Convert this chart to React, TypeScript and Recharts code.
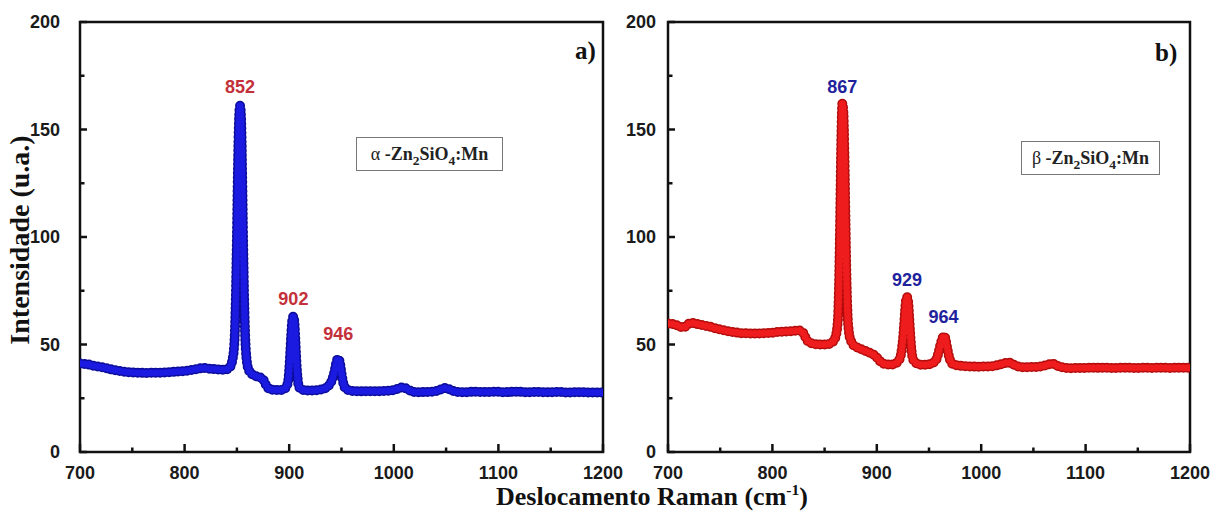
import React from "react";
import { LineChart, Line, XAxis, YAxis, ReferenceArea, ReferenceDot, ReferenceLine } from "recharts";

// Raman spectra of Zn2SiO4:Mn: [shift cm-1, intensity u.a.]
const alphaSpectrum: [number, number][] = [
  [700, 41.2], [704, 41], [708, 40.7], [712, 40.2], [716, 39.8], [720, 39.5], [724, 39.1],
  [728, 38.6], [732, 38.2], [736, 37.8], [740, 37.5], [745, 37.2], [750, 37], [755, 36.9],
  [760, 36.8], [765, 36.8], [770, 36.9], [775, 36.9], [780, 37], [785, 37.1], [790, 37.3],
  [795, 37.5], [800, 37.7], [805, 38], [810, 38.4], [815, 38.9], [819, 39.1], [823, 38.8],
  [827, 38.6], [831, 38.4], [835, 38.3], [839, 38.4], [842, 38.8], [844, 40], [846, 43.5],
  [847, 47], [848, 55], [849, 72], [850, 100], [851, 132], [852, 154], [853, 161],
  [854, 155], [855, 130], [856, 97], [857, 70], [858, 53], [859, 44.5], [860, 40.5],
  [862, 37.5], [865, 36], [868, 35.3], [871, 34.8], [874, 34.3], [876, 33], [878, 31],
  [880, 29.7], [883, 29], [887, 28.8], [891, 28.8], [895, 29.2], [897, 30.2], [899, 33],
  [900, 38], [901, 46], [902, 55], [903, 61.5], [904, 63], [905, 60], [906, 51], [907, 41],
  [908, 34.5], [909, 31], [911, 29.3], [915, 28.7], [920, 28.6], [925, 28.7], [930, 29],
  [934, 29.5], [937, 30.5], [940, 32.5], [942, 35], [944, 39], [945, 41.5], [946, 43],
  [947, 43.5], [948, 42.5], [949, 40], [950, 36.5], [952, 31.5], [954, 29.5], [957, 28.7],
  [960, 28.4], [965, 28.3], [970, 28.2], [975, 28.3], [980, 28.3], [985, 28.2], [990, 28.4],
  [995, 28.5], [1000, 28.8], [1004, 29.4], [1008, 30], [1012, 29.5], [1016, 28.5],
  [1020, 27.9], [1025, 27.8], [1030, 27.9], [1035, 28], [1040, 28.3], [1044, 28.9],
  [1048, 29.8], [1052, 29.4], [1056, 28.5], [1060, 28], [1065, 27.8], [1070, 27.8],
  [1075, 28], [1080, 28], [1085, 27.9], [1090, 27.9], [1095, 28], [1100, 28], [1105, 27.8],
  [1110, 27.9], [1115, 28], [1120, 28], [1125, 27.8], [1130, 27.8], [1135, 27.9],
  [1140, 27.9], [1145, 27.8], [1150, 27.8], [1155, 27.9], [1160, 27.9], [1165, 27.7],
  [1170, 27.7], [1175, 27.8], [1180, 27.8], [1185, 27.7], [1190, 27.7], [1195, 27.7],
  [1200, 27.7],
];

const betaSpectrum: [number, number][] = [
  [700, 59.8], [704, 59.6], [708, 59], [712, 58.2], [715, 57.9], [718, 58.8], [721, 59.9],
  [724, 60], [727, 59.6], [731, 59.2], [735, 58.8], [740, 58.3], [745, 57.6], [750, 57],
  [755, 56.4], [760, 56], [765, 55.6], [770, 55.3], [775, 55.2], [780, 55.1], [785, 55.1],
  [790, 55.2], [795, 55.3], [800, 55.5], [805, 55.8], [810, 56], [815, 56.1], [820, 56.3],
  [825, 56.6], [828, 56.2], [830, 55], [832, 53], [834, 51.5], [837, 50.6], [841, 50.2],
  [845, 50], [849, 50], [853, 50.1], [856, 50.6], [858, 51.3], [860, 52.8], [861, 54.5],
  [862, 57.5], [863, 64], [864, 82], [865, 112], [866, 145], [867, 162], [868, 158],
  [869, 138], [870, 108], [871, 80], [872, 64], [873, 57], [874, 53.5], [876, 51],
  [878, 49.5], [881, 48.7], [885, 47.8], [889, 47], [893, 46.2], [897, 45.3], [900, 44],
  [903, 42.3], [906, 41.2], [910, 40.7], [914, 40.7], [918, 41.2], [921, 42.5], [923, 45],
  [924, 48], [925, 52], [926, 58], [927, 65], [928, 70.5], [929, 72], [930, 70], [931, 63],
  [932, 55], [933, 48.5], [934, 44.5], [936, 42], [939, 41], [943, 40.6], [947, 40.6],
  [950, 40.8], [954, 41.5], [957, 43], [959, 46], [961, 50], [963, 53], [964, 54],
  [965, 53.8], [966, 52], [968, 47], [970, 43], [972, 41.2], [975, 40.5], [980, 40.1],
  [985, 39.9], [990, 39.8], [995, 39.7], [1000, 39.7], [1005, 39.8], [1010, 39.9],
  [1014, 40.2], [1018, 40.7], [1022, 41.3], [1026, 41.6], [1030, 40.9], [1034, 40],
  [1038, 39.5], [1043, 39.4], [1048, 39.5], [1053, 39.6], [1058, 39.9], [1062, 40.4],
  [1066, 40.9], [1069, 41], [1072, 40.3], [1076, 39.6], [1080, 39.2], [1085, 39],
  [1090, 39.1], [1095, 39.1], [1100, 39.1], [1105, 39.2], [1110, 39.1], [1115, 39.2],
  [1120, 39.2], [1125, 39.1], [1130, 39.1], [1135, 39.2], [1140, 39.2], [1145, 39.1],
  [1150, 39.1], [1155, 39.2], [1160, 39.2], [1165, 39.1], [1170, 39.2], [1175, 39.2],
  [1180, 39.1], [1185, 39.2], [1190, 39.2], [1195, 39.2], [1200, 39.2],
];

// peak annotations: [shift, intensity, label]
const alphaPeaks: [number, number, string][] = [[853, 161, "852"], [904, 63, "902"], [947, 43.5, "946"]];
const betaPeaks: [number, number, string][] = [[867, 162, "867"], [929, 72, "929"], [964, 54, "964"]];

const xMajorTicks = [700, 800, 900, 1000, 1100, 1200];
const xMinorTicks = [750, 850, 950, 1050, 1150];
const yMajorTicks = [0, 50, 100, 150, 200];
const yMinorTicks = [25, 75, 125, 175];

const sans = "'Liberation Sans', Arial, sans-serif";
const serif = "'Liberation Serif', 'Times New Roman', serif";
const tickText = { fontFamily: sans, fontWeight: "bold" as const, fontSize: 18, fill: "#1a1a1a" };

// inward tick lengths, px -> axis units (plot is 523 x 430 px for 500 x 200 units)
const PX_X = 500 / 523;
const PX_Y = 200 / 430;

interface PanelProps {
  spectrum: [number, number][];
  peaks: [number, number, string][];
  gaps: number[];
  dark: string;
  bright: string;
  labelColor: string;
  left: number;
  width: number;
  margin: { top: number; right: number; bottom: number; left: number };
  yGap: number;
}

function Panel({ spectrum, peaks, gaps, dark, bright, labelColor, left, width, margin, yGap }: PanelProps) {
  const data = spectrum.map(([shift, intensity]) => ({ shift, intensity }));
  const xTickMarks = [
    ...xMajorTicks.map((t) => [t, 8] as const),
    ...xMinorTicks.map((t) => [t, 4.5] as const),
  ];
  const yTickMarks = [
    ...yMajorTicks.map((t) => [t, 7] as const),
    ...yMinorTicks.map((t) => [t, 4.5] as const),
  ];
  return (
    <div style={{ position: "absolute", left, top: 0 }}>
      <LineChart width={width} height={519} data={data} margin={margin}>
        <XAxis
          dataKey="shift"
          type="number"
          domain={[700, 1200]}
          ticks={xMajorTicks}
          interval={0}
          tick={{ ...tickText, dy: 4 }}
          tickLine={false}
          tickSize={0}
          tickMargin={10}
          axisLine={false}
          height={30}
          allowDataOverflow
        />
        <YAxis
          type="number"
          domain={[0, 200]}
          ticks={yMajorTicks}
          interval={0}
          tick={tickText}
          tickLine={false}
          tickSize={0}
          tickMargin={yGap}
          axisLine={false}
          width={40}
          allowDataOverflow
        />
        <Line
          dataKey="intensity"
          type="monotone"
          stroke={dark}
          strokeWidth={10}
          strokeDasharray="0 4.5"
          strokeLinecap="round"
          dot={false}
          activeDot={false}
          isAnimationActive={false}
        />
        <Line
          dataKey="intensity"
          type="monotone"
          stroke={bright}
          strokeWidth={7}
          strokeDasharray="0 4.5"
          strokeLinecap="round"
          dot={false}
          activeDot={false}
          isAnimationActive={false}
        />
        {xTickMarks.map(([t, len]) => (
          <ReferenceLine
            key={`x${t}`}
            segment={[{ x: t, y: 0 }, { x: t, y: len * PX_Y }]}
            stroke="#111"
            strokeWidth={2.5}
            ifOverflow="visible"
          />
        ))}
        {yTickMarks.map(([t, len]) => (
          <ReferenceLine
            key={`y${t}`}
            segment={[{ x: 700, y: t }, { x: 700 + len * PX_X, y: t }]}
            stroke="#111"
            strokeWidth={2.5}
            ifOverflow="visible"
          />
        ))}
        <ReferenceArea x1={700} x2={1200} y1={0} y2={200} fill="none" stroke="#111" strokeWidth={2.5} ifOverflow="visible" />
        {peaks.map(([px, py, label], i) => (
          <ReferenceDot
            key={label}
            x={px}
            y={py}
            r={0}
            fill="none"
            stroke="none"
            label={{
              value: label,
              position: "top",
              offset: gaps[i],
              fill: labelColor,
              fontSize: 18,
              fontWeight: "bold",
              fontFamily: sans,
            }}
          />
        ))}
      </LineChart>
    </div>
  );
}

const boxStyle: React.CSSProperties = {
  position: "absolute",
  border: "1px solid #777",
  background: "#fff",
  fontFamily: serif,
  fontWeight: "bold",
  fontSize: 18,
  color: "#222",
  display: "flex",
  alignItems: "center",
  justifyContent: "center",
  boxSizing: "border-box",
  whiteSpace: "nowrap",
};
const subStyle: React.CSSProperties = { fontSize: "0.75em", verticalAlign: "-0.35em", lineHeight: 0 };
const tagStyle: React.CSSProperties = {
  position: "absolute",
  fontFamily: serif,
  fontWeight: "bold",
  fontSize: 25,
  color: "#111",
  lineHeight: 1,
};

function Formula({ phase }: { phase: string }) {
  return (
    <span style={{ lineHeight: 1 }}>
      <span style={{ fontWeight: "normal" }}>{phase}</span> -Zn<span style={subStyle}>2</span>SiO
      <span style={subStyle}>4</span>:Mn
    </span>
  );
}

export default function App() {
  return (
    <div style={{ position: "absolute", left: 0, top: 0, width: 1224, height: 519, background: "#fff", overflow: "hidden" }}>
      <Panel
        spectrum={alphaSpectrum}
        peaks={alphaPeaks}
        gaps={[13, 12, 18]}
        dark="#0c0c9a"
        bright="#1a1ae0"
        labelColor="#c4303a"
        left={0}
        width={640}
        margin={{ top: 22, right: 37, bottom: 37, left: 40 }}
        yGap={20}
      />
      <Panel
        spectrum={betaSpectrum}
        peaks={betaPeaks}
        gaps={[11, 11, 13]}
        dark="#b30c0c"
        bright="#ee1c1c"
        labelColor="#1e229c"
        left={612}
        width={612}
        margin={{ top: 22, right: 34, bottom: 37, left: 16 }}
        yGap={12}
      />
      <div style={{ ...boxStyle, left: 356, top: 137, width: 147, height: 34 }}>
        <Formula phase="α" />
      </div>
      <div style={{ ...boxStyle, left: 1021, top: 141, width: 139, height: 34 }}>
        <Formula phase="β" />
      </div>
      <div style={{ ...tagStyle, left: 575, top: 38 }}>a)</div>
      <div style={{ ...tagStyle, left: 1155, top: 40 }}>b)</div>
      <div
        style={{
          position: "absolute",
          left: 20,
          top: 240,
          transform: "translate(-50%, -50%) rotate(-90deg)",
          fontFamily: serif,
          fontWeight: "bold",
          fontSize: 28,
          color: "#111",
          whiteSpace: "nowrap",
          lineHeight: 1,
        }}
      >
        Intensidade (u.a.)
      </div>
      <div
        style={{
          position: "absolute",
          left: 652,
          top: 484,
          transform: "translateX(-50%)",
          fontFamily: serif,
          fontWeight: "bold",
          fontSize: 26,
          color: "#111",
          whiteSpace: "nowrap",
          lineHeight: 1,
        }}
      >
        Deslocamento Raman (cm<sup style={{ fontSize: "0.6em", lineHeight: 0 }}>-1</sup>)
      </div>
    </div>
  );
}
